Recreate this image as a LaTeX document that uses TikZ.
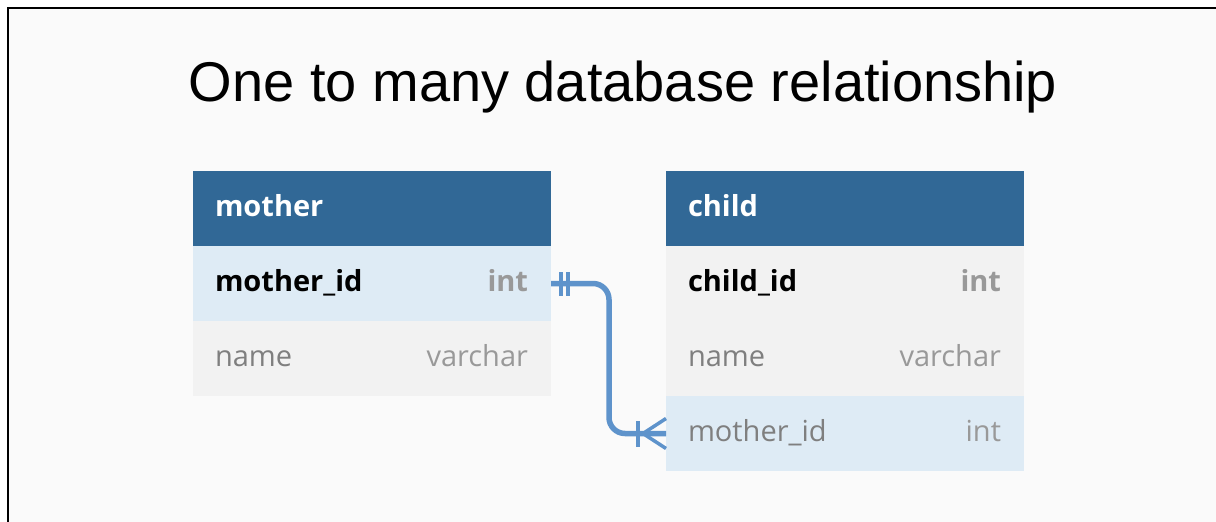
\documentclass[tikz,border=0pt]{standalone}
\usepackage{fontspec}
\setmainfont{Open Sans}
\newfontfamily\titlefont{Liberation Sans}
\usepackage{xcolor}
\definecolor{canvas}{HTML}{FAFAFA}
\definecolor{headblue}{HTML}{316896}
\definecolor{keyrow}{HTML}{DEEBF5}
\definecolor{plainrow}{HTML}{F2F2F2}
\definecolor{greytext}{HTML}{7F7F7F}
\definecolor{typegrey}{HTML}{999999}
\definecolor{relblue}{HTML}{5E93CB}
\usepackage{tikz}
\usetikzlibrary{positioning,calc}
\tikzset{
  every node/.append style={outer sep=0pt},
  row/.style={minimum width=358pt, minimum height=75pt, text width=314pt,
    inner xsep=22pt, inner ysep=0pt, align=left, text height=21pt, text depth=5pt,
    font=\fontsize{29}{32}\selectfont},
  tablehead/.style={row, fill=headblue, text=white, font=\fontsize{29}{32}\selectfont\bfseries},
  pkrow/.style={row, fill=#1, text=black, font=\fontsize{29}{32}\selectfont\bfseries},
  pkrow/.default=keyrow,
  fieldrow/.style={row, fill=#1, text=greytext},
  fieldrow/.default=plainrow,
  fieldtype/.style={inner sep=0pt, text=typegrey, font=\fontsize{29}{32}\selectfont},
  pktype/.style={fieldtype, font=\fontsize{29}{32}\selectfont\bfseries},
  rel/.style={draw=relblue, line width=5.5pt},
  relmark/.style={draw=relblue, line width=3.5pt},
}
\begin{document}
\begin{tikzpicture}[x=1pt, y=-1pt]
  \useasboundingbox (0,0) rectangle (1216,522);
  \fill[white] (-6,-6) rectangle (1224,530);
  \fill[canvas] (8,8) rectangle (1224,530);
  \draw[line width=2pt] (8,530) -- (8,8) -- (1224,8);

  \node[anchor=base, font=\titlefont\fontsize{56}{60}\selectfont] (title) at (623,101)
    {One to many database relationship};

  % mother table
  \node[tablehead, anchor=north west] (mhd) at (193,171) {mother};
  \node[pkrow, below=0pt of mhd] (mid) {mother\_id};
  \node[fieldrow, below=0pt of mid] (mname) {name};
  \node[pktype, anchor=base east] (midtype) at ([xshift=-23pt]mid.base east) {int};
  \node[fieldtype, anchor=base east] (mnametype) at ([xshift=-23pt]mname.base east) {varchar};

  % child table
  \node[tablehead, anchor=north west] (chd) at (666,171) {child};
  \node[pkrow=plainrow, below=0pt of chd] (cid) {child\_id};
  \node[fieldrow, below=0pt of cid] (cname) {name};
  \node[fieldrow=keyrow, below=0pt of cname] (cmid) {mother\_id};
  \node[pktype, anchor=base east] (cidtype) at ([xshift=-23pt]cid.base east) {int};
  \node[fieldtype, anchor=base east] (cnametype) at ([xshift=-23pt]cname.base east) {varchar};
  \node[fieldtype, anchor=base east] (cmidtype) at ([xshift=-23pt]cmid.base east) {int};

  % one-to-many link
  \draw[rel, rounded corners=16pt] (mid.east) -- ++(58,0) |- (cmid.west);
  \draw[relmark] ([xshift=10pt, yshift=-12pt]mid.east) -- ([xshift=10pt, yshift=12pt]mid.east);
  \draw[relmark] ([xshift=17pt, yshift=-12pt]mid.east) -- ([xshift=17pt, yshift=12pt]mid.east);
  \draw[relmark] ([xshift=-28pt, yshift=-13pt]cmid.west) -- ([xshift=-28pt, yshift=13pt]cmid.west);
  \draw[relmark] ([yshift=15pt]cmid.west) -- ([xshift=-23pt]cmid.west) -- ([yshift=-15pt]cmid.west);
\end{tikzpicture}
\end{document}
